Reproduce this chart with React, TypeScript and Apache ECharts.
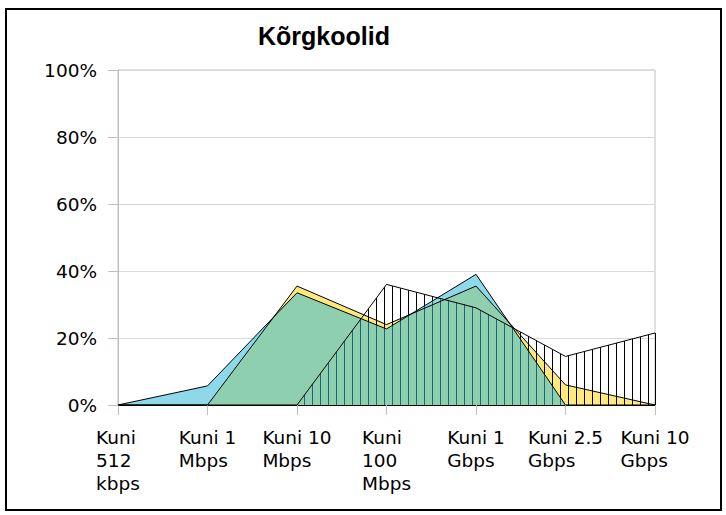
import React, { useEffect, useRef } from "react";
import * as echarts from "echarts";

const titleText = "Kõrgkoolid";
const categories = [
  "Kuni\n512\nkbps",
  "Kuni 1\nMbps",
  "Kuni 10\nMbps",
  "Kuni\n100\nMbps",
  "Kuni 1\nGbps",
  "Kuni 2.5\nGbps",
  "Kuni 10\nGbps",
];
const seriesNames = ["Seeria 1", "Seeria 2", "Seeria 3"];
const yellowValues = [0, 0, 35.5, 24, 35.5, 6, 0];
const hatchedValues = [0, 0, 0, 36, 29, 14.5, 21.5];
const blueValues = [0, 5.7, 33.5, 22.7, 39, 0, 0];
const yAxisMin = 0;
const yAxisMax = 100;
const yAxisStep = 20;

const LABEL_FONT = "DejaVu Sans";

export default function App() {
  const ref = useRef<HTMLDivElement>(null);

  useEffect(() => {
    if (!ref.current) return;
    const chart = echarts.init(ref.current, undefined, { renderer: "svg" });

    const canvas = document.createElement("canvas");
    canvas.width = 8;
    canvas.height = 8;
    const ctx = canvas.getContext("2d");
    if (ctx) {
      ctx.clearRect(0, 0, 8, 8);
      ctx.fillStyle = "#000000";
      ctx.fillRect(0, 0, 1, 8);
    }
    const hatch: any = {
      image: canvas,
      repeat: "repeat",
      scaleX: 0.97,
      x: 5.8,
    };

    const lastIdx = categories.length - 1;

    chart.setOption({
      animation: false,
      backgroundColor: "#ffffff",
      title: {
        text: titleText,
        left: 253,
        top: 18,
        padding: 5,
        textStyle: {
          fontFamily: "Liberation Sans",
          fontWeight: "bold",
          fontSize: 25,
          color: "#000000",
        },
      },
      graphic: [
        {
          type: "rect",
          silent: true,
          z: 100,
          shape: { x: 6, y: 9, width: 715, height: 501 },
          style: { fill: "none", stroke: "#000000", lineWidth: 2 },
        },
      ],
      grid: {
        left: 118,
        right: 71,
        top: 70,
        bottom: 110,
        show: true,
        borderColor: "#BFBFBF",
        borderWidth: 1,
        backgroundColor: "transparent",
      },
      xAxis: {
        type: "category",
        boundaryGap: false,
        data: categories,
        axisLine: { show: true, lineStyle: { color: "#000000", width: 1 } },
        axisTick: {
          show: true,
          length: 10,
          interval: 0,
          lineStyle: { color: "#BFBFBF", width: 1 },
        },
        axisLabel: {
          interval: 0,
          margin: 21,
          align: "center",
          formatter: (v: string) =>
            v
              .split("\n")
              .map((s) => "{a|" + s + "}")
              .join("\n"),
          rich: {
            a: {
              align: "left",
              fontFamily: LABEL_FONT,
              fontSize: 18.5,
              lineHeight: 23,
              color: "#000000",
            },
          },
        },
        splitLine: { show: false },
      },
      yAxis: {
        type: "value",
        min: yAxisMin,
        max: yAxisMax,
        interval: yAxisStep,
        axisLine: { show: true, lineStyle: { color: "#BFBFBF", width: 1 } },
        axisTick: { show: true, length: 10, lineStyle: { color: "#BFBFBF" } },
        axisLabel: {
          margin: 21,
          formatter: "{value}%",
          fontFamily: LABEL_FONT,
          fontSize: 18.5,
          color: "#000000",
        },
        splitLine: { show: true, lineStyle: { color: "#D9D9D9", width: 1 } },
      },
      series: [
        {
          name: seriesNames[0],
          type: "line",
          data: yellowValues,
          showSymbol: false,
          symbol: "none",
          lineStyle: { color: "#000000", width: 1 },
          itemStyle: { color: "#FFE97A" },
          areaStyle: { color: "#FFE97A", opacity: 1 },
        },
        {
          name: seriesNames[1],
          type: "line",
          data: hatchedValues,
          showSymbol: false,
          symbol: "none",
          lineStyle: { color: "#000000", width: 1 },
          itemStyle: { color: "#000000" },
          areaStyle: { color: hatch, opacity: 1 },
          markLine: {
            silent: true,
            symbol: "none",
            label: { show: false },
            lineStyle: { color: "#000000", width: 1, type: "solid" },
            data: [
              [
                { coord: [lastIdx, 0] },
                { coord: [lastIdx, hatchedValues[lastIdx]] },
              ],
            ],
          },
        },
        {
          name: seriesNames[2],
          type: "line",
          data: blueValues,
          showSymbol: false,
          symbol: "none",
          lineStyle: { color: "#000000", width: 1 },
          itemStyle: { color: "#30BAD9" },
          areaStyle: { color: "rgba(48,186,217,0.55)", opacity: 1 },
        },
      ],
    });

    return () => {
      chart.dispose();
    };
  }, []);

  return (
    <div
      ref={ref}
      style={{ position: "absolute", left: 0, top: 0, width: 726, height: 515 }}
    />
  );
}
